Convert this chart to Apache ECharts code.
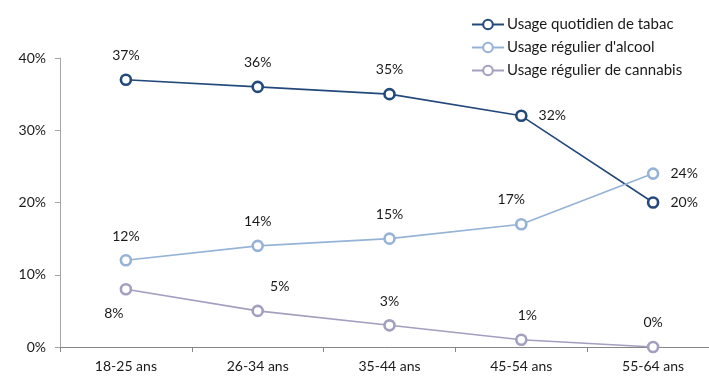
<!DOCTYPE html>
<html>
<head>
<meta charset="utf-8">
<script src="https://cdn.jsdelivr.net/npm/echarts@6/dist/echarts.min.js"></script>
<style>
  html, body { margin: 0; padding: 0; background: #fff; }
  #chart { width: 709px; height: 377px; }
</style>
</head>
<body>
<div id="chart"></div>
<script>
const ageGroups = ["18-25 ans", "26-34 ans", "35-44 ans", "45-54 ans", "55-64 ans"];
const tabac = [37, 36, 35, 32, 20];
const alcool = [12, 14, 15, 17, 24];
const cannabis = [8, 5, 3, 1, 0];

// label placement per point, as in the original chart
const tabacPos = ["top", "top", "top", "right", "right"];
const alcoolPos = ["top", "top", "top", "top", "right"];
const cannabisPos = ["bottom", "top", "top", "top", "top"];
const cannabisOffset = [[-12, 0], [22, 0], [0, 0], [6, 0], [0, 0]];
const alcoolOffset = [[0, 0], [0, 0], [0, 0], [-10, 0], [0, 0]];

const font = "Lato, 'Noto Sans', sans-serif";
const textColor = "#1a1a1a";

const makeSeries = (name, values, color, positions, offsets) => ({
  name: name,
  type: "line",
  data: values.map((v, i) => ({
    value: v,
    label: {
      position: positions[i],
      offset: offsets ? offsets[i] : [0, 0],
    },
  })),
  symbol: "circle",
  symbolSize: 10,
  lineStyle: { color: color, width: 1.6 },
  itemStyle: { color: "#fff", borderColor: color, borderWidth: 2.6 },
  label: {
    show: true,
    distance: 11,
    formatter: "{c}%",
    color: textColor,
    fontFamily: font,
    fontSize: 14,
  },
  emphasis: { disabled: true },
  animation: false,
});

const chart = echarts.init(document.getElementById("chart"));
chart.setOption({
  backgroundColor: "#fff",
  color: ["#23497b", "#95b3d7", "#a29fc0"],
  legend: {
    orient: "vertical",
    left: 466,
    top: 12,
    itemWidth: 32,
    itemHeight: 12,
    itemGap: 8,
    textStyle: { color: textColor, fontFamily: font, fontSize: 15, padding: [0, 0, 0, -2] },
    data: ["Usage quotidien de tabac", "Usage régulier d'alcool", "Usage régulier de cannabis"],
  },
  grid: { left: 60, right: -10, top: 58, bottom: 30, outerBoundsMode: "none" },
  xAxis: {
    type: "category",
    data: ageGroups,
    boundaryGap: true,
    axisLine: { lineStyle: { color: "#868686", width: 1 } },
    axisTick: { show: true, length: 5, lineStyle: { color: "#868686" } },
    axisLabel: { color: textColor, fontFamily: font, fontSize: 14, margin: 12 },
  },
  yAxis: {
    type: "value",
    min: 0,
    max: 40,
    interval: 10,
    axisLine: { show: true, lineStyle: { color: "#a6a6a6", width: 1 } },
    axisTick: { show: true, length: 5, inside: false, lineStyle: { color: "#a6a6a6" } },
    splitLine: { show: false },
    axisLabel: { formatter: "{value}%", color: textColor, fontFamily: font, fontSize: 14, margin: 14 },
  },
  series: [
    makeSeries("Usage quotidien de tabac", tabac, "#23497b", tabacPos),
    makeSeries("Usage régulier d'alcool", alcool, "#95b3d7", alcoolPos, alcoolOffset),
    makeSeries("Usage régulier de cannabis", cannabis, "#a29fc0", cannabisPos, cannabisOffset),
  ],
});
</script>
</body>
</html>
